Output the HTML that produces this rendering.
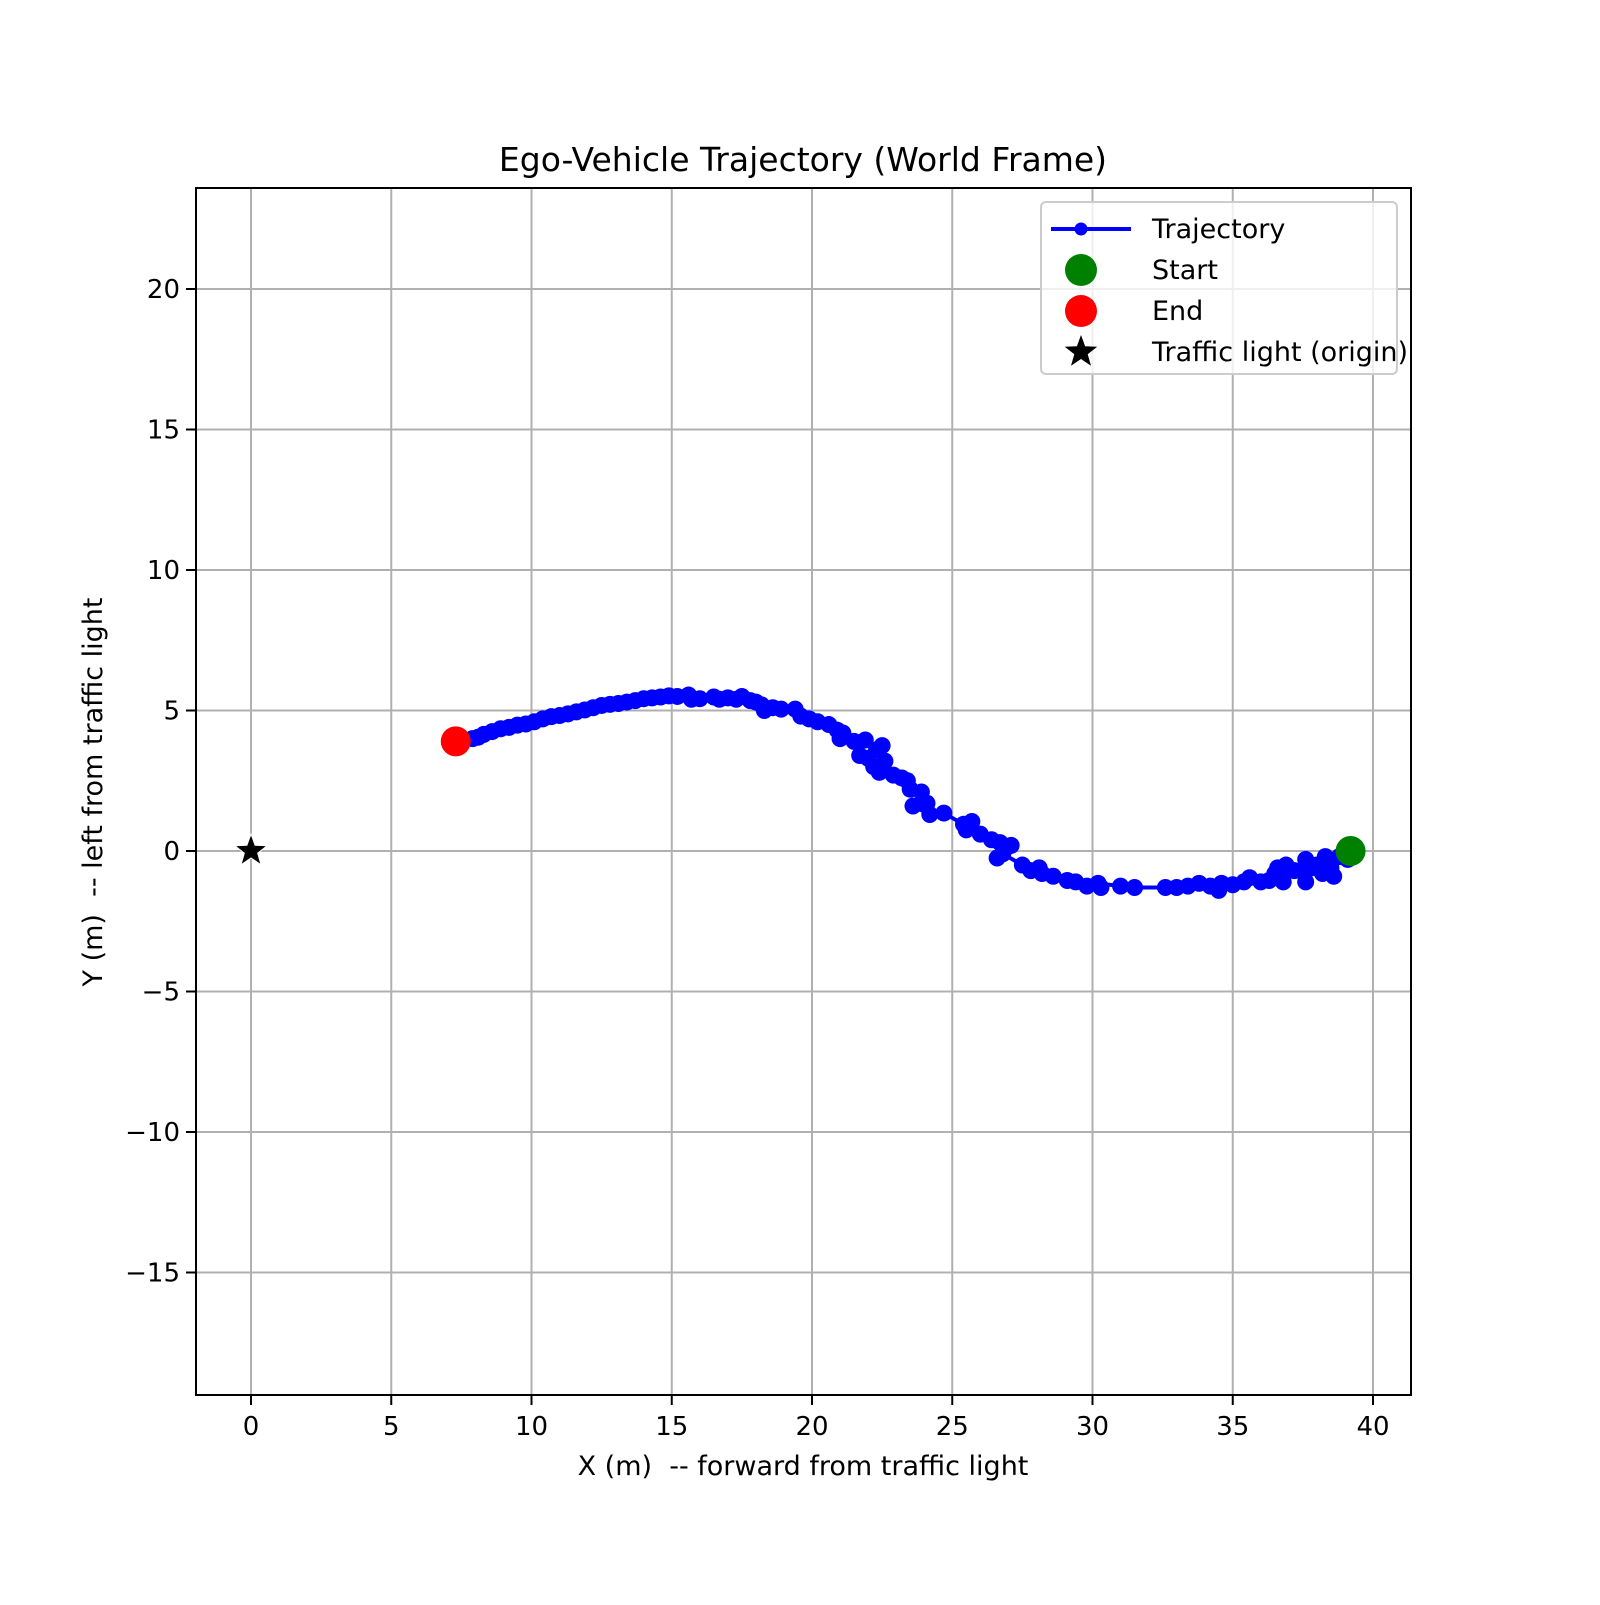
<!DOCTYPE html>
<html><head><meta charset="utf-8"><style>
body{margin:0;background:#fff}
svg text{font-family:"DejaVu Sans","Liberation Sans",sans-serif;fill:#000;white-space:pre}
</style></head><body>
<svg id="chart" width="1600" height="1600" viewBox="0 0 1600 1600" xmlns="http://www.w3.org/2000/svg">
<rect width="1600" height="1600" fill="#fff"/>
<g id="grid"></g>
<g id="series"></g>
<rect x="196" y="188" width="1215" height="1207" fill="none" stroke="#000" stroke-width="2"/>
<g id="ticks"></g>
<text x="803" y="171" font-size="33" text-anchor="middle">Ego-Vehicle Trajectory (World Frame)</text>
<text x="803" y="1475" font-size="27" text-anchor="middle" xml:space="preserve">X (m)  -- forward from traffic light</text>
<text transform="translate(102,792) rotate(-90)" font-size="27" text-anchor="middle" xml:space="preserve">Y (m)  -- left from traffic light</text>
<g>
<rect x="1041" y="202" width="356" height="172" rx="5" fill="#fff" fill-opacity="0.8" stroke="#ccc" stroke-width="2"/>
<g><line x1="1051" y1="229" x2="1131" y2="229" stroke="#00f" stroke-width="4"/><circle cx="1081" cy="229" r="6.5" fill="#00f"/><text x="1152" y="238" font-size="27">Trajectory</text></g>
<g><circle cx="1081" cy="270" r="16" fill="#008000"/><text x="1152" y="279" font-size="27">Start</text></g>
<g><circle cx="1081" cy="311" r="16" fill="#f00"/><text x="1152" y="320" font-size="27">End</text></g>
<g><polygon id="lstar" fill="#000"/><text x="1152" y="361" font-size="27">Traffic light (origin)</text></g>
</g>
</svg>
<script>
const xTicks=[0,5,10,15,20,25,30,35,40];
const yTicks=[-15,-10,-5,0,5,10,15,20];
const trajX=[39.2,39.3,39.1,39.0,38.8,38.6,38.3,38.5,38.2,38.0,37.8,37.6,37.5,37.6,37.2,36.9,36.8,36.6,36.5,36.3,36.0,35.6,35.4,35.0,34.6,34.5,34.2,33.8,33.4,33.0,32.6,31.5,31.0,30.2,30.3,29.8,29.4,29.1,28.6,28.2,28.1,27.8,27.5,26.8,26.6,27.1,26.9,26.7,26.4,26.0,25.5,25.7,25.4,24.7,24.2,23.6,24.1,23.9,23.4,23.5,23.2,22.9,22.3,22.5,22.6,22.4,22.2,22.0,21.7,21.9,21.5,21.0,21.1,20.9,20.6,20.2,19.9,19.6,19.4,18.9,18.6,18.3,18.2,18.0,17.8,17.5,17.3,17.0,16.7,16.5,16.0,15.7,15.6,15.2,14.9,14.6,14.3,14.0,13.7,13.4,13.1,12.8,12.5,12.2,11.9,11.6,11.3,11.0,10.7,10.4,10.1,9.8,9.5,9.2,8.9,8.6,8.3,8.1,7.9,7.6,7.4];
const trajY=[0.0,-0.05,-0.3,-0.1,-0.2,-0.9,-0.2,-0.6,-0.8,-0.5,-0.6,-0.3,-0.7,-1.1,-0.7,-0.5,-1.1,-0.6,-0.8,-1.05,-1.1,-0.95,-1.1,-1.2,-1.15,-1.4,-1.25,-1.15,-1.25,-1.3,-1.3,-1.3,-1.25,-1.15,-1.3,-1.25,-1.1,-1.05,-0.9,-0.8,-0.6,-0.7,-0.5,-0.1,-0.25,0.2,0.1,0.3,0.4,0.6,0.75,1.05,0.95,1.35,1.3,1.6,1.7,2.1,2.5,2.2,2.6,2.7,3.6,3.75,3.2,2.8,3.0,3.3,3.4,3.95,3.9,4.0,4.2,4.3,4.5,4.6,4.7,4.8,5.05,5.05,5.1,5.0,5.2,5.3,5.35,5.5,5.4,5.45,5.4,5.48,5.42,5.4,5.55,5.5,5.52,5.48,5.45,5.42,5.35,5.3,5.25,5.22,5.18,5.1,5.02,4.95,4.88,4.82,4.78,4.7,4.6,4.52,4.48,4.4,4.35,4.25,4.15,4.05,4.0,3.95,3.9];
const startPt=[39.2,0.0];
const endPt=[7.3,3.9];
const originPt=[0,0];
const NS='http://www.w3.org/2000/svg';
const L=196,R=1411,T=188,B=1395;
function sx(v){return 251+v*28.05;}
function sy(v){return 851-v*28.1;}
function mk(tag,attrs,parent){const e=document.createElementNS(NS,tag);for(const k in attrs)e.setAttribute(k,attrs[k]);parent.appendChild(e);return e;}
const grid=document.getElementById('grid'),ticks=document.getElementById('ticks'),series=document.getElementById('series');
xTicks.forEach(v=>{
  const g=mk('line',{x1:sx(v),x2:sx(v),y1:T,y2:B,stroke:'#b0b0b0','stroke-width':2},grid);
  
  
  mk('line',{x1:sx(v),x2:sx(v),y1:B,y2:B+10,stroke:'#000','stroke-width':2},ticks);
  const t=mk('text',{x:sx(v),y:B+40,'font-size':26,'text-anchor':'middle'},ticks);
  t.textContent=String(v);
  
  
});
yTicks.forEach(v=>{
  const g=mk('line',{x1:L,x2:R,y1:sy(v),y2:sy(v),stroke:'#b0b0b0','stroke-width':2},grid);
  
  
  mk('line',{x1:L-10,x2:L,y1:sy(v),y2:sy(v),stroke:'#000','stroke-width':2},ticks);
  const t=mk('text',{x:L-16,y:sy(v)+9,'font-size':26,'text-anchor':'end'},ticks);
  t.textContent=v<0?'\u2212'+Math.abs(v):String(v);
  
  
});
const pts=trajX.map((x,i)=>sx(x)+','+sy(trajY[i])).join(' ');
const line=mk('polyline',{points:pts,fill:'none',stroke:'#00f','stroke-width':4,'stroke-linejoin':'round'},series);


trajX.forEach((x,i)=>{
  const c=mk('circle',{cx:sx(x),cy:sy(trajY[i]),r:8.5,fill:'#00f'},series);
  
  
});
const s=mk('circle',{cx:sx(startPt[0]),cy:sy(startPt[1]),r:15,fill:'#008000'},series);


const e=mk('circle',{cx:sx(endPt[0]),cy:sy(endPt[1]),r:15,fill:'#f00'},series);


function starPts(cx,cy,ro,ri){let a=[];for(let i=0;i<10;i++){const r=i%2?ri:ro;const ang=-Math.PI/2+i*Math.PI/5;a.push((cx+r*Math.cos(ang)).toFixed(1)+','+(cy+r*Math.sin(ang)).toFixed(1));}return a.join(' ');}
const st=mk('polygon',{points:starPts(sx(originPt[0]),sy(originPt[1]),17,7),fill:'#000',stroke:'#fff','stroke-width':1},series);


document.getElementById('lstar').setAttribute('points',starPts(1081,352,17,7));
</script>
</body></html>
